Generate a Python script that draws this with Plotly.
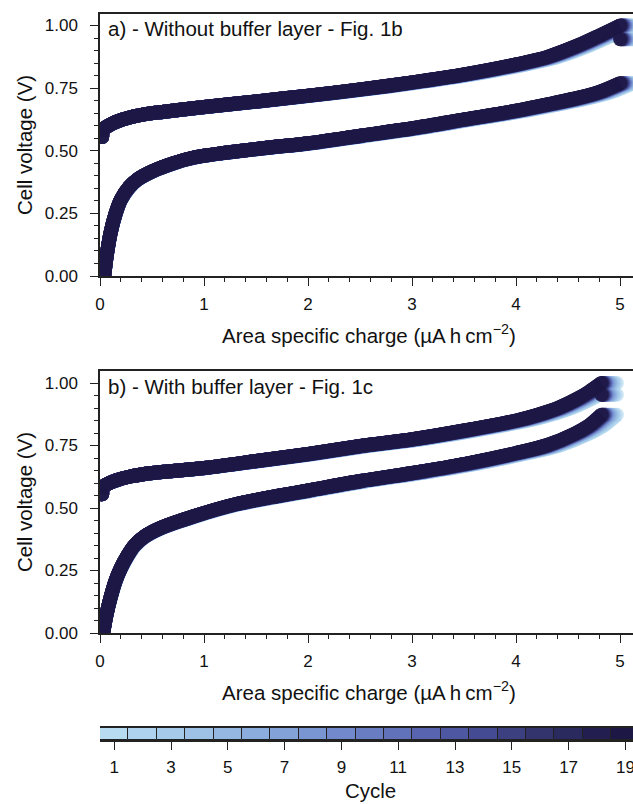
import plotly.graph_objects as go

W, H = 633, 804

# ---------------- data ----------------
cycles = list(range(1, 20))
cycle_colors = ["#b7dbf0", "#afd3ee", "#a6cbea", "#9dc2e6", "#94b8e2", "#8badde",
                "#83a2d8", "#7a96d2", "#7289cb", "#697dc3", "#6171ba", "#5864af",
                "#4e57a1", "#454b92", "#3c3f80", "#33346e", "#2a2a5e", "#221f50",
                "#1c1745"]

# Panel a) - without buffer layer (reference shape = last cycle)
a_up_q = [0.02, 0.03, 0.08, 0.15, 0.3, 0.5, 0.75, 1.0, 1.5, 2.0, 2.5, 3.0, 3.5, 4.0, 4.3, 4.6, 4.8, 5.0]
a_up_v = [0.555, 0.585, 0.600, 0.615, 0.635, 0.650, 0.663, 0.675, 0.697, 0.720, 0.745, 0.773, 0.805, 0.845, 0.875, 0.922, 0.960, 1.0]
a_lo_q = [0.04, 0.06, 0.1, 0.15, 0.2, 0.28, 0.36, 0.5, 0.7, 0.9, 1.2, 1.6, 2.0, 2.5, 3.0, 3.5, 4.0, 4.3, 4.6, 4.8, 5.0]
a_lo_v = [0.0, 0.07, 0.17, 0.25, 0.305, 0.355, 0.386, 0.418, 0.450, 0.473, 0.492, 0.512, 0.53, 0.56, 0.59, 0.625, 0.66, 0.685, 0.712, 0.735, 0.77]
a_relax_v = 0.945
a_cap = [5.13, 5.11, 5.10, 5.09, 5.08, 5.07, 5.06, 5.055, 5.05, 5.045, 5.04, 5.035, 5.03, 5.025, 5.02, 5.015, 5.01, 5.005, 5.0]

# Panel b) - with buffer layer
b_up_q = [0.02, 0.03, 0.08, 0.15, 0.3, 0.5, 0.75, 1.0, 1.5, 2.0, 2.5, 3.0, 3.5, 4.0, 4.2, 4.4, 4.6, 4.7, 4.82]
b_up_v = [0.555, 0.585, 0.598, 0.610, 0.627, 0.640, 0.650, 0.660, 0.688, 0.716, 0.748, 0.775, 0.81, 0.85, 0.872, 0.9, 0.94, 0.965, 1.0]
b_lo_q = [0.03, 0.06, 0.1, 0.15, 0.2, 0.26, 0.33, 0.42, 0.58, 0.9, 1.3, 1.7, 2.0, 2.5, 3.0, 3.5, 4.0, 4.3, 4.55, 4.7, 4.82]
b_lo_v = [0.0, 0.07, 0.14, 0.21, 0.26, 0.307, 0.35, 0.384, 0.42, 0.467, 0.515, 0.548, 0.57, 0.608, 0.64, 0.676, 0.72, 0.752, 0.795, 0.83, 0.873]
b_relax_v = 0.953
b_cap = [4.97, 4.95, 4.935, 4.92, 4.91, 4.90, 4.89, 4.88, 4.87, 4.865, 4.86, 4.855, 4.85, 4.845, 4.84, 4.835, 4.83, 4.825, 4.82]

y_ticks = [0.0, 0.25, 0.5, 0.75, 1.0]
x_ticks = [0, 1, 2, 3, 4, 5]
cbar_ticks = [1, 3, 5, 7, 9, 11, 13, 15, 17, 19]

# ---------------- figure ----------------
FONT = "Liberation Sans, Arial, sans-serif"
LW = 14
fig = go.Figure()


def add_panel(up_q, up_v, lo_q, lo_v, relax_v, caps, xa, ya):
    ref = caps[-1]
    for i, c in enumerate(cycles):
        s = caps[i] / ref
        col = cycle_colors[i]
        ux = [q * s for q in up_q] + [None, caps[i]]
        uy = list(up_v) + [None, relax_v]
        usz = [LW] + [0] * (len(up_q) - 2) + [LW, 0, LW]
        fig.add_trace(go.Scatter(x=ux, y=uy, mode="lines+markers", xaxis=xa, yaxis=ya,
                                 line=dict(color=col, width=LW, shape="spline", smoothing=0.8),
                                 marker=dict(color=col, size=usz, line=dict(width=0)),
                                 connectgaps=False, showlegend=False, hoverinfo="skip"))
        lx = [q * s for q in lo_q]
        lsz = [0] * (len(lo_q) - 1) + [LW]
        fig.add_trace(go.Scatter(x=lx, y=list(lo_v), mode="lines+markers", xaxis=xa, yaxis=ya,
                                 line=dict(color=col, width=LW, shape="spline", smoothing=0.8),
                                 marker=dict(color=col, size=lsz, line=dict(width=0)),
                                 showlegend=False, hoverinfo="skip"))


add_panel(a_up_q, a_up_v, a_lo_q, a_lo_v, a_relax_v, a_cap, "x", "y")
add_panel(b_up_q, b_up_v, b_lo_q, b_lo_v, b_relax_v, b_cap, "x2", "y2")

# colour bar as a row of boxes
fig.add_trace(go.Bar(x=cycles, y=[1] * len(cycles), width=1, xaxis="x3", yaxis="y3",
                     marker=dict(color=cycle_colors, line=dict(color="#222222", width=1)),
                     showlegend=False, hoverinfo="skip"))


def py(p):
    return 1 - p / H


def px(p):
    return p / W


X0 = 100
XMAX = (W - X0) / 104.0
TICKFONT = dict(size=17, color="#111", family=FONT)

common_x = dict(range=[0, XMAX], tickvals=x_ticks, ticks="outside", ticklen=8, tickwidth=1.3,
                tickcolor="#222", showline=True, linecolor="#222", linewidth=1.5, mirror=True,
                showgrid=False, zeroline=False, tickfont=TICKFONT, ticklabelstandoff=4,
                ticklabeloverflow="allow",
                minor=dict(ticks="outside", ticklen=4, tickcolor="#222", dtick=0.2, tick0=0, showgrid=False))
common_y = dict(tickvals=y_ticks, ticktext=["%.2f" % v for v in y_ticks], ticks="outside", ticklen=8,
                tickwidth=1.3, tickcolor="#222", showline=True, linecolor="#222", linewidth=1.5,
                showgrid=False, zeroline=False, tickfont=TICKFONT, ticklabelstandoff=9,
                minor=dict(ticks="outside", ticklen=4, tickcolor="#222", dtick=0.05, tick0=0, showgrid=False))

fig.update_layout(
    width=W, height=H, margin=dict(l=0, r=0, t=0, b=0, autoexpand=False),
    paper_bgcolor="white", plot_bgcolor="white",
    font=dict(family=FONT, size=17, color="#111"),
    bargap=0,
    xaxis=dict(domain=[px(X0), 1], anchor="y", **common_x),
    yaxis=dict(domain=[py(276), py(14)], anchor="x", range=[0, 1.046], **common_y),
    xaxis2=dict(domain=[px(X0), 1], anchor="y2", **common_x),
    yaxis2=dict(domain=[py(633), py(371)], anchor="x2", range=[0, 1.048], **common_y),
    xaxis3=dict(domain=[px(X0), 1], anchor="y3", range=[0.5, 0.5 + (W - X0) / 28.4],
                tickvals=cbar_ticks, ticks="outside", ticklen=8, tickwidth=1.3, tickcolor="#222",
                showline=True, linecolor="#222", linewidth=1.5, mirror=True, showgrid=False,
                zeroline=False, tickfont=TICKFONT, ticklabelstandoff=3, ticklabeloverflow="allow"),
    yaxis3=dict(domain=[py(740), py(728)], anchor="x3", range=[0, 1], visible=False, fixedrange=True),
)

ann = [
    dict(text="a) - Without buffer layer - Fig. 1b", x=px(106), y=py(29), xanchor="left", yanchor="middle"),
    dict(text="b) - With buffer layer - Fig. 1c", x=px(106), y=py(386), xanchor="left", yanchor="middle"),
    dict(text="Area specific charge (µA\u2009h\u2009cm<sup>\u22122</sup>)", x=px(369), y=py(334), xanchor="center", yanchor="middle"),
    dict(text="Area specific charge (µA\u2009h\u2009cm<sup>\u22122</sup>)", x=px(369), y=py(691), xanchor="center", yanchor="middle"),
    dict(text="Cell voltage (V)", x=px(24), y=py(145), textangle=-90, xanchor="center", yanchor="middle"),
    dict(text="Cell voltage (V)", x=px(24), y=py(502), textangle=-90, xanchor="center", yanchor="middle"),
    dict(text="Cycle", x=px(370), y=py(790), xanchor="center", yanchor="middle"),
]
for a in ann:
    a.update(xref="paper", yref="paper", showarrow=False, font=dict(size=20.5, color="#111", family=FONT))
fig.update_layout(annotations=ann)

fig.write_html("out.html", config={"displayModeBar": False},
               post_script="document.body.style.margin='0px';document.body.style.overflow='hidden';")
